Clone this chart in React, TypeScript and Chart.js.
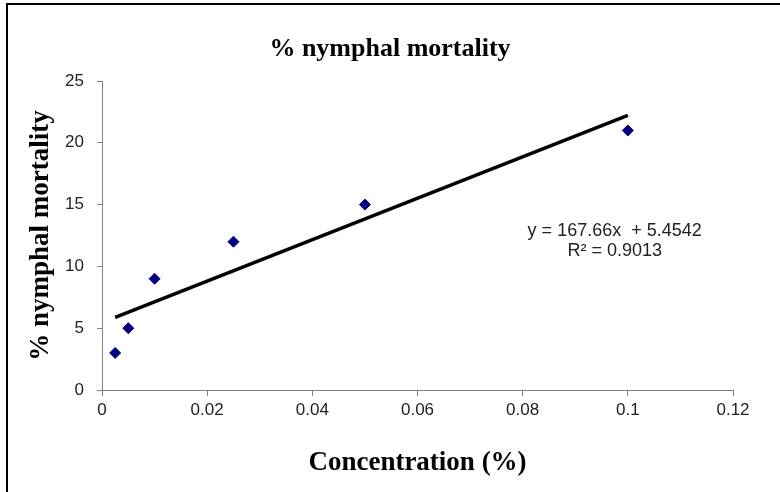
import React, { useEffect, useRef } from 'react';
import { Chart, registerables } from 'chart.js';

Chart.register(...registerables);

// ---- data ----
const concentrations = [0.0025, 0.005, 0.01, 0.025, 0.05, 0.1];
const mortality = [3, 5, 9, 12, 15, 21];
const trendSlope = 167.66;
const trendIntercept = 5.4542;
const trendRange = [0.0025, 0.1];
const xTickLabels = ['0', '0.02', '0.04', '0.06', '0.08', '0.1', '0.12'];
const yTickLabels = ['0', '5', '10', '15', '20', '25'];
const chartTitle = '% nymphal mortality';
const xTitle = 'Concentration (%)';
const yTitle = '% nymphal mortality';
const equationLines = ['y = 167.66x  + 5.4542', 'R² = 0.9013'];
const equationAnchor = { x: 0.0975, y: 12.9 };

const SANS = '"Liberation Sans", Arial, sans-serif';
const SERIF = '"Liberation Serif", "Times New Roman", serif';

const equationPlugin = {
  id: 'equationText',
  afterDatasetsDraw(chart: any) {
    const { ctx, scales } = chart;
    const x = scales.x.getPixelForValue(equationAnchor.x);
    const y = scales.y.getPixelForValue(equationAnchor.y);
    ctx.save();
    ctx.font = `18px ${SANS}`;
    ctx.fillStyle = '#222';
    ctx.textAlign = 'center';
    ctx.textBaseline = 'middle';
    equationLines.forEach((line, i) => ctx.fillText(line, x, y + i * 20));
    ctx.restore();
  },
};

export default function App() {
  const ref = useRef<HTMLCanvasElement | null>(null);

  useEffect(() => {
    if (!ref.current) return;
    const points = concentrations.map((c, i) => ({ x: c, y: mortality[i] }));
    const trend = trendRange.map((c) => ({ x: c, y: trendSlope * c + trendIntercept }));
    const chart = new Chart(ref.current, {
      type: 'scatter',
      data: {
        datasets: [
          {
            label: 'Trend',
            data: trend,
            showLine: true,
            borderColor: '#000',
            borderWidth: 3.5,
            pointRadius: 0,
            pointHoverRadius: 0,
          },
          {
            label: 'Mortality',
            data: points,
            pointStyle: 'rectRot',
            pointRadius: 5.5,
            backgroundColor: '#000080',
            borderColor: '#000080',
            borderWidth: 1,
          },
        ],
      },
      options: {
        responsive: false,
        animation: false,
        devicePixelRatio: 1,
        layout: { padding: { top: 0, left: 0, right: 0, bottom: 0 } },
        plugins: {
          legend: { display: false },
          tooltip: { enabled: false },
          title: {
            display: true,
            text: chartTitle,
            color: '#000',
            font: { family: SERIF, size: 26, weight: 'bold' },
            padding: { top: 34, bottom: 15.8 },
          },
        },
        scales: {
          x: {
            type: 'linear',
            min: 0,
            max: 0.12,
            afterFit: (scale: any) => {
              scale.height = 102;
              scale.paddingRight = 47;
            },
            ticks: {
              stepSize: 0.02,
              color: '#222',
              font: { family: SANS, size: 17 },
              padding: 4,
              callback: (_v: any, i: number) => xTickLabels[i],
            },
            grid: {
              drawOnChartArea: false,
              drawTicks: true,
              tickLength: 6,
              tickColor: '#808080',
            },
            border: { display: true, color: '#808080', width: 1 },
            title: {
              display: true,
              text: xTitle,
              color: '#000',
              font: { family: SERIF, size: 27, weight: 'bold' },
              padding: { top: 0, bottom: 13 },
            },
          },
          y: {
            type: 'linear',
            min: 0,
            max: 25,
            afterFit: (scale: any) => {
              scale.width = 102;
            },
            ticks: {
              stepSize: 5,
              color: '#222',
              font: { family: SANS, size: 17 },
              padding: 13,
              callback: (_v: any, i: number) => yTickLabels[i],
            },
            grid: {
              drawOnChartArea: false,
              drawTicks: true,
              tickLength: 5,
              tickColor: '#808080',
            },
            border: { display: true, color: '#808080', width: 1 },
            title: {
              display: true,
              text: yTitle,
              color: '#000',
              font: { family: SERIF, size: 27, weight: 'bold' },
              padding: { top: 25, bottom: 0 },
            },
          },
        },
      },
      plugins: [equationPlugin],
    });
    return () => chart.destroy();
  }, []);

  return (
    <div style={{ position: 'fixed', left: 0, top: 0, width: 780, height: 492, background: '#fff' }}>
      <canvas ref={ref} width={780} height={492} style={{ display: 'block' }} />
      <div
        style={{
          position: 'absolute',
          left: 6,
          top: 3,
          width: 774,
          height: 489,
          boxSizing: 'border-box',
          borderTop: '2px solid #000',
          borderLeft: '2px solid #000',
          pointerEvents: 'none',
        }}
      />
    </div>
  );
}
